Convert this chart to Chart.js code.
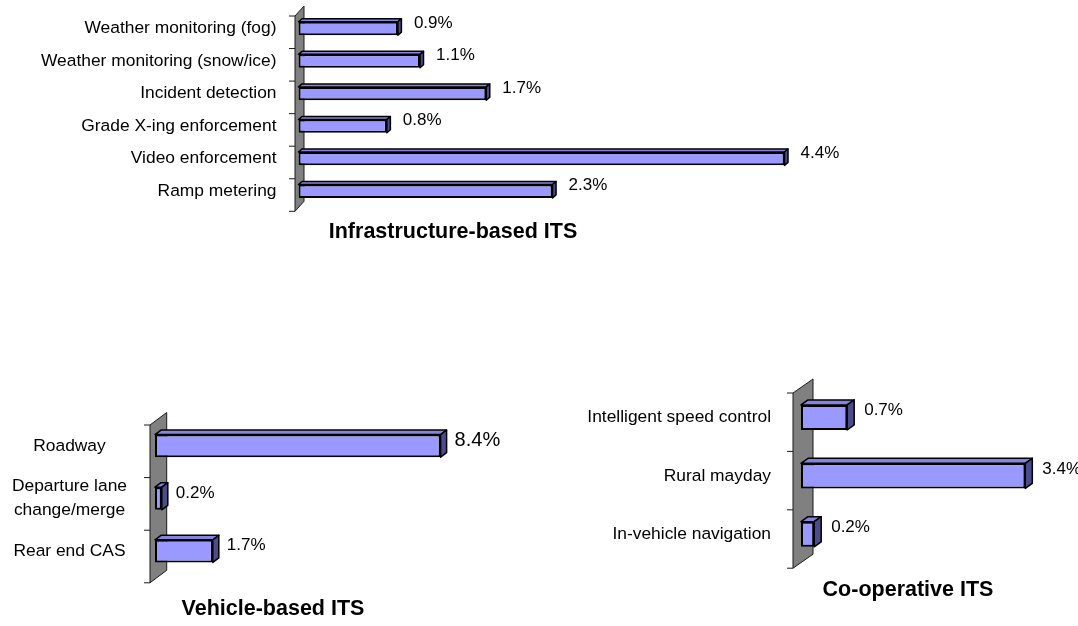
<!DOCTYPE html>
<html>
<head>
<meta charset="utf-8">
<script src="https://cdn.jsdelivr.net/npm/chart.js@4/dist/chart.umd.min.js"></script>
<style>
  html, body { margin: 0; padding: 0; background: #fff; }
  #page { position: relative; width: 1078px; height: 626px; overflow: hidden; }
  canvas { position: absolute; }
</style>
</head>
<body>
<div id="page">
  <canvas id="infraChart" width="906" height="250" style="left:0px;top:0px"></canvas>
  <canvas id="vehicleChart" width="546" height="226" style="left:0px;top:400px"></canvas>
  <canvas id="coopChart" width="736" height="256" style="left:540px;top:370px"></canvas>
</div>
<script>
// values in percent
const infraLabels = ['Weather monitoring (fog)', 'Weather monitoring (snow/ice)', 'Incident detection',
    'Grade X-ing enforcement', 'Video enforcement', 'Ramp metering'];
const infraValues = [0.9, 1.1, 1.7, 0.8, 4.4, 2.3];

const vehicleLabels = ['Roadway', ['Departure lane', 'change/merge'], 'Rear end CAS'];
const vehicleValues = [8.4, 0.2, 1.7];

const coopLabels = ['Intelligent speed control', 'Rural mayday', 'In-vehicle navigation'];
const coopValues = [0.7, 3.4, 0.2];

Chart.defaults.font.family = "'Liberation Sans', Arial, sans-serif";
Chart.defaults.color = '#000';

const FRONT = '#9999ff';
const TOP = '#8585dd';
const SIDE = '#4c4c8c';

// grey back wall + tick marks, drawn behind the bars
function wallPlugin(cfg) {
    return {
        id: 'wall',
        beforeDatasetsDraw(chart) {
            const ctx = chart.ctx;
            const area = chart.chartArea;
            const yScale = chart.scales.y;
            const n = chart.data.labels.length;
            const half = (yScale.getPixelForTick(1) - yScale.getPixelForTick(0)) / 2;
            const fx = area.left - cfg.wallShift[0];
            const top = yScale.getPixelForTick(0) - half + cfg.wallShift[1];
            const bottom = yScale.getPixelForTick(n - 1) + half + cfg.wallShift[1];
            const [wx, wy] = cfg.wallDepth;

            ctx.save();
            ctx.fillStyle = '#808080';
            ctx.strokeStyle = '#1a1a1a';
            ctx.lineWidth = 1;
            ctx.beginPath();
            ctx.moveTo(fx, top);
            ctx.lineTo(fx + wx, top - wy);
            ctx.lineTo(fx + wx, bottom - wy);
            ctx.lineTo(fx, bottom);
            ctx.closePath();
            ctx.fill();
            ctx.stroke();

            ctx.beginPath();
            for (let i = 0; i <= n; i++) {
                const y = top + i * half * 2;
                ctx.moveTo(fx - 6, y);
                ctx.lineTo(fx, y);
            }
            ctx.stroke();
            ctx.restore();
        }
    };
}

// top and right faces of each bar, then the value label
function depthPlugin(cfg) {
    return {
        id: 'depth',
        afterDatasetsDraw(chart) {
            const ctx = chart.ctx;
            const meta = chart.getDatasetMeta(0);
            const data = chart.data.datasets[0].data;
            const [dx, dy] = cfg.barDepth;
            ctx.save();
            ctx.lineWidth = 1.5;
            ctx.lineJoin = 'round';
            ctx.strokeStyle = '#000';
            meta.data.forEach((bar, i) => {
                const p = bar.getProps(['x', 'y', 'base', 'height'], true);
                const t = p.y - p.height / 2;
                const b = p.y + p.height / 2;

                ctx.fillStyle = TOP;
                ctx.beginPath();
                ctx.moveTo(p.base, t);
                ctx.lineTo(p.base + dx, t - dy);
                ctx.lineTo(p.x + dx, t - dy);
                ctx.lineTo(p.x, t);
                ctx.closePath();
                ctx.fill();
                ctx.stroke();

                ctx.fillStyle = SIDE;
                ctx.beginPath();
                ctx.moveTo(p.x, t);
                ctx.lineTo(p.x + dx, t - dy);
                ctx.lineTo(p.x + dx, b - dy);
                ctx.lineTo(p.x, b);
                ctx.closePath();
                ctx.fill();
                ctx.stroke();

                const size = cfg.labelSizes ? cfg.labelSizes[i] : 17;
                ctx.fillStyle = '#000';
                ctx.font = `${size}px 'Liberation Sans', Arial, sans-serif`;
                ctx.textAlign = 'left';
                ctx.textBaseline = 'middle';
                ctx.fillText(`${data[i].toFixed(1)}%`, p.x + cfg.labelGap, p.y + cfg.labelRise);
            });
            ctx.restore();
        }
    };
}

function makeChart(id, labels, values, cfg) {
    const ctx = document.getElementById(id).getContext('2d');
    return new Chart(ctx, {
        type: 'bar',
        data: {
            labels: labels,
            datasets: [{
                data: values,
                backgroundColor: FRONT,
                borderColor: '#000',
                borderWidth: 2,
                borderSkipped: false,
                barPercentage: cfg.barPercentage,
                categoryPercentage: 1
            }]
        },
        options: {
            indexAxis: 'y',
            responsive: false,
            animation: false,
            devicePixelRatio: 1,
            layout: { padding: cfg.padding },
            scales: {
                x: { display: false, min: 0, max: cfg.xMax },
                y: {
                    // invisible tick marks, only used to push the labels away from the wall
                    grid: { display: true, color: 'rgba(0,0,0,0)', drawOnChartArea: false, drawTicks: true, tickLength: cfg.labelGapLeft },
                    border: { display: false },
                    ticks: {
                        padding: 0,
                        crossAlign: cfg.crossAlign,
                        autoSkip: false,
                        font: { size: 17.4, lineHeight: 1.38 }
                    },
                    afterFit: (scale) => { scale.width = cfg.axisWidth; }
                }
            },
            plugins: {
                legend: { display: false },
                tooltip: { enabled: false },
                title: {
                    display: true,
                    text: cfg.title,
                    position: 'bottom',
                    color: '#000',
                    font: { size: 21.5, weight: 'bold' },
                    padding: { top: cfg.titleGap, bottom: 0 }
                }
            }
        },
        plugins: [wallPlugin(cfg), depthPlugin(cfg)]
    });
}

makeChart('infraChart', infraLabels, infraValues, {
    title: 'Infrastructure-based ITS',
    padding: { left: 0, right: 0, top: 12.2, bottom: 5.4 },
    axisWidth: 298.5,
    xMax: 5.5,
    labelGapLeft: 22,
    crossAlign: 'near',
    barPercentage: 0.41,
    titleGap: 11.3,
    wallShift: [3.5, 3.8],
    wallDepth: [9, 10],
    barDepth: [3.5, 3],
    labelGap: 16,
    labelRise: -5.5
});

makeChart('vehicleChart', vehicleLabels, vehicleValues, {
    title: 'Vehicle-based ITS',
    padding: { left: 0, right: 0, top: 19.6, bottom: 4.4 },
    axisWidth: 155,
    xMax: 11.5,
    labelGapLeft: 28,
    crossAlign: 'center',
    barPercentage: 0.43,
    titleGap: 18.4,
    wallShift: [5, 5.4],
    wallDepth: [16.7, 12.5],
    barDepth: [6, 4.5],
    labelGap: 14,
    labelRise: -5.5,
    labelSizes: [20, 17, 17]
});

makeChart('coopChart', coopLabels, coopValues, {
    title: 'Co-operative ITS',
    padding: { left: 0, right: 0, top: 18.25, bottom: 23.4 },
    axisWidth: 261,
    xMax: 7.2,
    labelGapLeft: 30,
    crossAlign: 'near',
    barPercentage: 0.43,
    titleGap: 13.35,
    wallShift: [8, 4.75],
    wallDepth: [20, 14],
    barDepth: [7, 5],
    labelGap: 17,
    labelRise: -7
});
</script>
</body>
</html>
